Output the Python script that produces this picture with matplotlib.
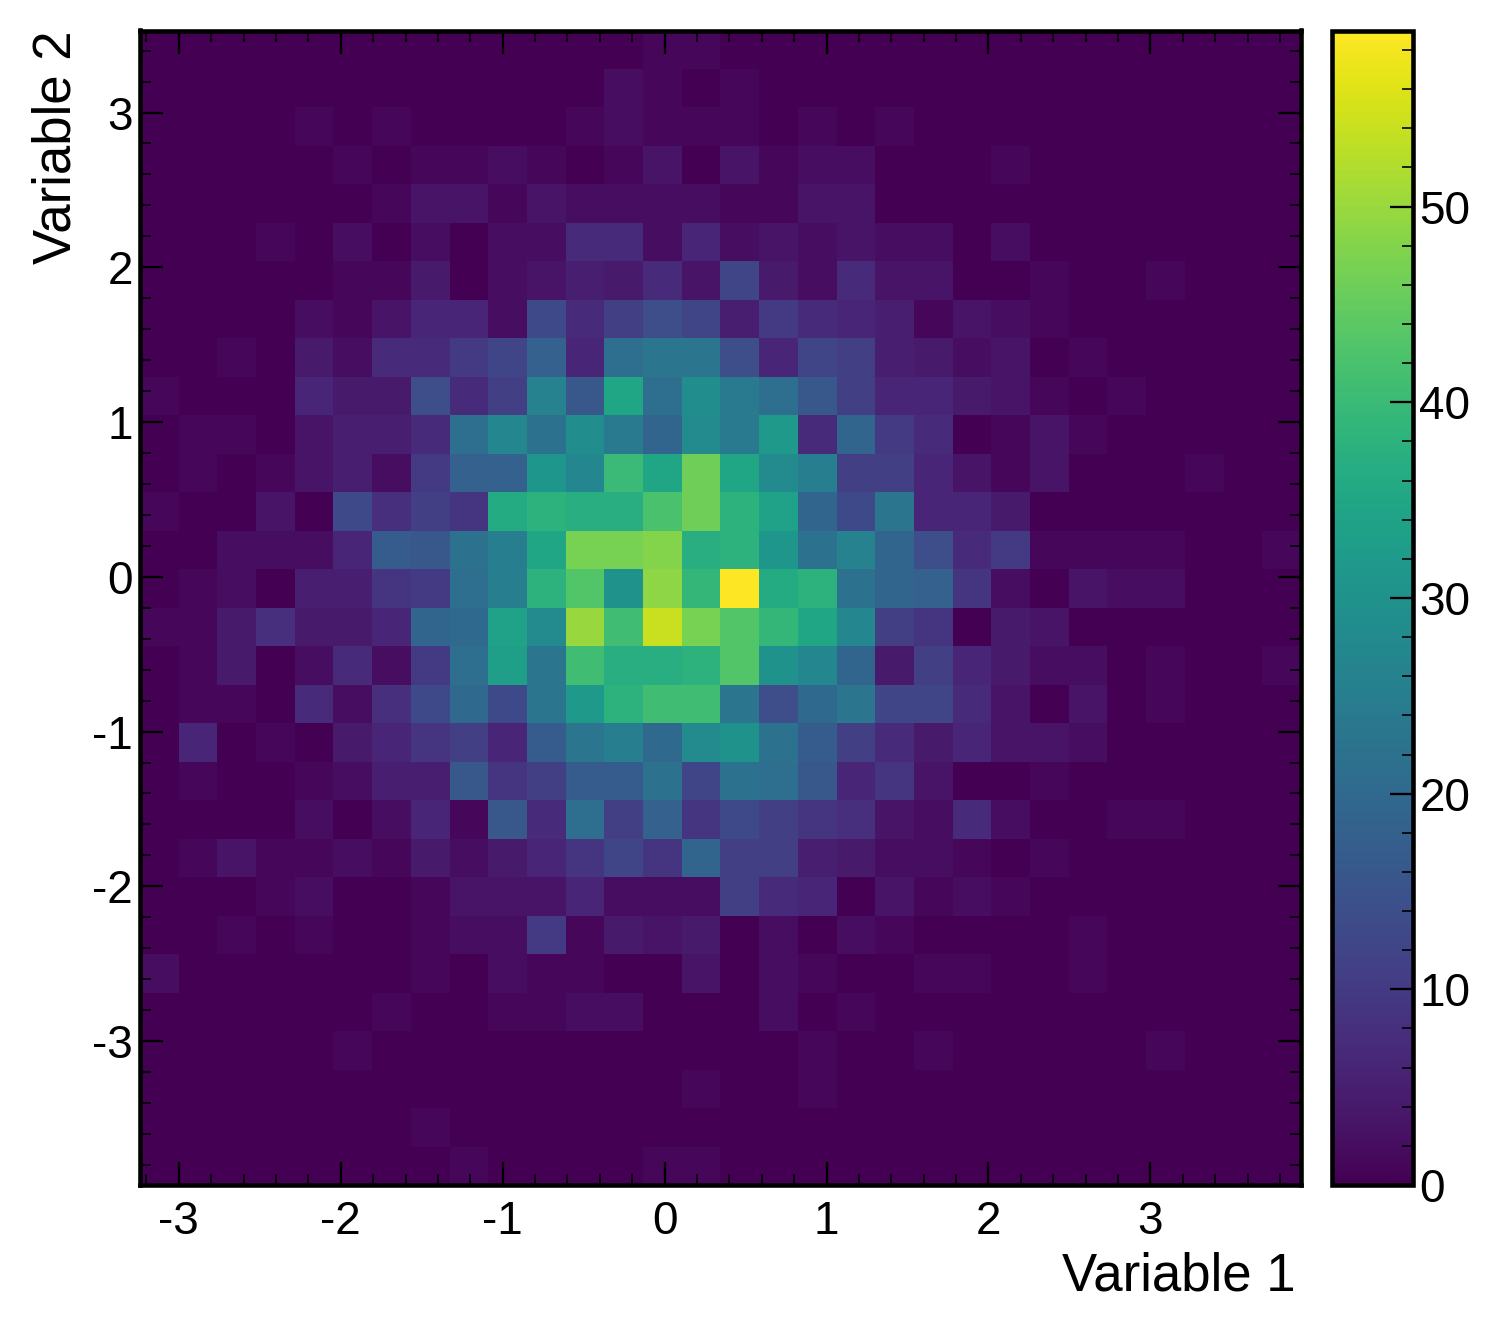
import matplotlib
matplotlib.use('Agg')
import matplotlib.pyplot as plt
from matplotlib.ticker import MultipleLocator
import numpy as np

plt.rcParams['font.family'] = ['Liberation Sans', 'DejaVu Sans']
plt.rcParams['axes.unicode_minus'] = False

x_lo, x_hi = -3.24, 3.93
y_lo, y_hi = -3.93, 3.53
n_bins = 30

# sparse rows, top of the plot first: {column: count}, empty bins are 0
rows = [
    {13: 1, 14: 1},
    {12: 2, 13: 1, 15: 1},
    {4: 1, 6: 1, 11: 1, 12: 2, 13: 1, 14: 1, 15: 1, 17: 1, 19: 1},
    {5: 1, 7: 1, 8: 1, 9: 2, 10: 1, 12: 1, 13: 3, 15: 3, 16: 1, 17: 2, 18: 2, 22: 1},
    {6: 1, 7: 3, 8: 3, 9: 1, 10: 3, 11: 2, 12: 2, 13: 2, 14: 2, 15: 1, 16: 1, 17: 3, 18: 3},
    {3: 1, 5: 2, 7: 2, 9: 2, 10: 2, 11: 7, 12: 7, 13: 2, 14: 6, 15: 2, 16: 3, 17: 2, 18: 3, 19: 2, 20: 2, 22: 2},
    {5: 1, 6: 1, 7: 4, 9: 2, 10: 3, 11: 5, 12: 4, 13: 7, 14: 3, 15: 12, 16: 4, 17: 2, 18: 7, 19: 3, 20: 3, 23: 1, 26: 1},
    {4: 2, 5: 1, 6: 3, 7: 6, 8: 6, 9: 2, 10: 13, 11: 7, 12: 11, 13: 14, 14: 12, 15: 5, 16: 10, 17: 7, 18: 6, 19: 5, 20: 1, 21: 3, 22: 2, 23: 1},
    {2: 1, 4: 4, 5: 2, 6: 7, 7: 7, 8: 10, 9: 12, 10: 18, 11: 6, 12: 21, 13: 23, 14: 23, 15: 14, 16: 6, 17: 12, 18: 11, 19: 5, 20: 4, 21: 2, 22: 3, 24: 1},
    {0: 1, 4: 6, 5: 4, 6: 4, 7: 14, 8: 7, 9: 11, 10: 26, 11: 16, 12: 35, 13: 21, 14: 29, 15: 24, 16: 21, 17: 16, 18: 11, 19: 6, 20: 6, 21: 4, 22: 3, 23: 1, 25: 1},
    {1: 1, 2: 1, 4: 3, 5: 5, 6: 5, 7: 7, 8: 21, 9: 27, 10: 22, 11: 29, 12: 24, 13: 19, 14: 28, 15: 24, 16: 32, 17: 7, 18: 19, 19: 10, 20: 7, 22: 1, 23: 3, 24: 1},
    {1: 1, 3: 1, 4: 3, 5: 5, 6: 2, 7: 10, 8: 18, 9: 18, 10: 31, 11: 27, 12: 40, 13: 35, 14: 46, 15: 35, 16: 28, 17: 25, 18: 11, 19: 11, 20: 6, 21: 3, 22: 1, 23: 3, 27: 1},
    {0: 1, 3: 3, 5: 13, 6: 8, 7: 11, 8: 9, 9: 36, 10: 38, 11: 37, 12: 37, 13: 42, 14: 46, 15: 38, 16: 34, 17: 19, 18: 13, 19: 23, 20: 6, 21: 6, 22: 4},
    {2: 2, 3: 2, 4: 2, 5: 6, 6: 17, 7: 16, 8: 22, 9: 25, 10: 35, 11: 47, 12: 47, 13: 48, 14: 37, 15: 38, 16: 31, 17: 22, 18: 26, 19: 19, 20: 14, 21: 7, 22: 10, 23: 1, 24: 1, 25: 1, 26: 1, 29: 1},
    {1: 1, 2: 2, 4: 5, 5: 5, 6: 9, 7: 10, 8: 21, 9: 25, 10: 38, 11: 43, 12: 30, 13: 49, 14: 39, 15: 59, 16: 36, 17: 38, 18: 22, 19: 19, 20: 18, 21: 9, 22: 2, 24: 3, 25: 2, 26: 2},
    {0: 1, 1: 1, 2: 4, 3: 8, 4: 4, 5: 4, 6: 6, 7: 19, 8: 20, 9: 34, 10: 28, 11: 50, 12: 41, 13: 54, 14: 47, 15: 43, 16: 39, 17: 35, 18: 27, 19: 11, 20: 9, 22: 4, 23: 3},
    {1: 1, 2: 4, 4: 2, 5: 7, 6: 2, 7: 10, 8: 21, 9: 33, 10: 23, 11: 41, 12: 37, 13: 37, 14: 38, 15: 43, 16: 30, 17: 27, 18: 19, 19: 4, 20: 11, 21: 6, 22: 4, 23: 2, 24: 2, 26: 1, 29: 1},
    {1: 1, 2: 1, 4: 7, 5: 2, 6: 8, 7: 13, 8: 20, 9: 13, 10: 23, 11: 32, 12: 38, 13: 41, 14: 41, 15: 23, 16: 14, 17: 20, 18: 23, 19: 12, 20: 12, 21: 7, 22: 3, 24: 3, 26: 1},
    {1: 6, 3: 1, 5: 4, 6: 6, 7: 9, 8: 11, 9: 6, 10: 17, 11: 23, 12: 25, 13: 20, 14: 28, 15: 30, 16: 22, 17: 17, 18: 11, 19: 7, 20: 4, 21: 6, 22: 3, 23: 3, 24: 2},
    {1: 1, 4: 1, 5: 2, 6: 5, 7: 5, 8: 16, 9: 9, 10: 11, 11: 17, 12: 17, 13: 22, 14: 12, 15: 22, 16: 21, 17: 16, 18: 6, 19: 9, 20: 3, 23: 1},
    {4: 2, 6: 2, 7: 6, 8: 1, 9: 16, 10: 7, 11: 21, 12: 11, 13: 18, 14: 9, 15: 13, 16: 11, 17: 9, 18: 8, 19: 3, 20: 2, 21: 7, 22: 2, 25: 1, 26: 1},
    {1: 1, 2: 3, 3: 1, 4: 1, 5: 2, 6: 1, 7: 4, 8: 2, 9: 4, 10: 6, 11: 9, 12: 12, 13: 9, 14: 19, 15: 11, 16: 11, 17: 5, 18: 4, 19: 2, 20: 2, 21: 1, 23: 1},
    {3: 1, 4: 2, 7: 1, 8: 3, 9: 3, 10: 3, 11: 6, 12: 2, 13: 2, 14: 2, 15: 11, 16: 7, 17: 6, 19: 3, 20: 1, 21: 2, 22: 1},
    {2: 1, 4: 1, 7: 1, 8: 2, 9: 2, 10: 10, 11: 1, 12: 4, 13: 3, 14: 4, 16: 2, 18: 2, 19: 1, 24: 1},
    {0: 2, 7: 1, 9: 2, 10: 1, 11: 1, 14: 3, 16: 2, 17: 1, 20: 1, 21: 1, 24: 1},
    {6: 1, 9: 1, 10: 1, 11: 2, 12: 2, 16: 2, 18: 1},
    {5: 1, 17: 1, 20: 1, 26: 1},
    {14: 1, 17: 1},
    {7: 1},
    {8: 1, 13: 1, 14: 1},
]

counts = np.zeros((n_bins, n_bins))
for i, row in enumerate(rows):
    for col, val in row.items():
        counts[i, col] = val

x_edges = np.linspace(x_lo, x_hi, n_bins + 1)
y_edges = np.linspace(y_hi, y_lo, n_bins + 1)

fig = plt.figure(figsize=(10, 8.9), dpi=150)
ax = fig.add_axes([140 / 1500, 1 - 1185 / 1335, 1161 / 1500, 1154.5 / 1335])
cax = fig.add_axes([1332 / 1500, 1 - 1185 / 1335, 81 / 1500, 1154.5 / 1335])

mesh = ax.pcolormesh(x_edges, y_edges, counts, cmap='viridis', vmin=0, vmax=59)
cb = fig.colorbar(mesh, cax=cax)

ax.set_xlim(x_lo, x_hi)
ax.set_ylim(y_lo, y_hi)
ax.xaxis.set_major_locator(MultipleLocator(1))
ax.yaxis.set_major_locator(MultipleLocator(1))
ax.xaxis.set_minor_locator(MultipleLocator(0.2))
ax.yaxis.set_minor_locator(MultipleLocator(0.2))
ax.tick_params(which='both', direction='in', top=True, right=True, labelsize=22, color='k')
ax.tick_params(which='major', length=11, width=1.1)
ax.tick_params(axis='x', which='major', pad=7)
ax.tick_params(axis='y', which='major', pad=3.5)
ax.tick_params(which='minor', length=5.5, width=0.8)
ax.set_xlabel('Variable 1', fontsize=25.3, loc='right', labelpad=4)
ax.xaxis.label.set_x(0.995)
ax.set_ylabel('Variable 2', fontsize=25.3, loc='top', labelpad=5)

cax.yaxis.set_major_locator(MultipleLocator(10))
cax.yaxis.set_minor_locator(MultipleLocator(2))
cax.tick_params(which='both', direction='in', right=True, labelsize=22, color='k')
cax.tick_params(which='major', length=11, width=1.1, pad=3)
cax.tick_params(which='minor', length=5.5, width=0.8)

for a in (ax, cax):
    for s in a.spines.values():
        s.set_linewidth(2.2)
cb.outline.set_linewidth(2.2)

fig.savefig('out.png', dpi=150)
